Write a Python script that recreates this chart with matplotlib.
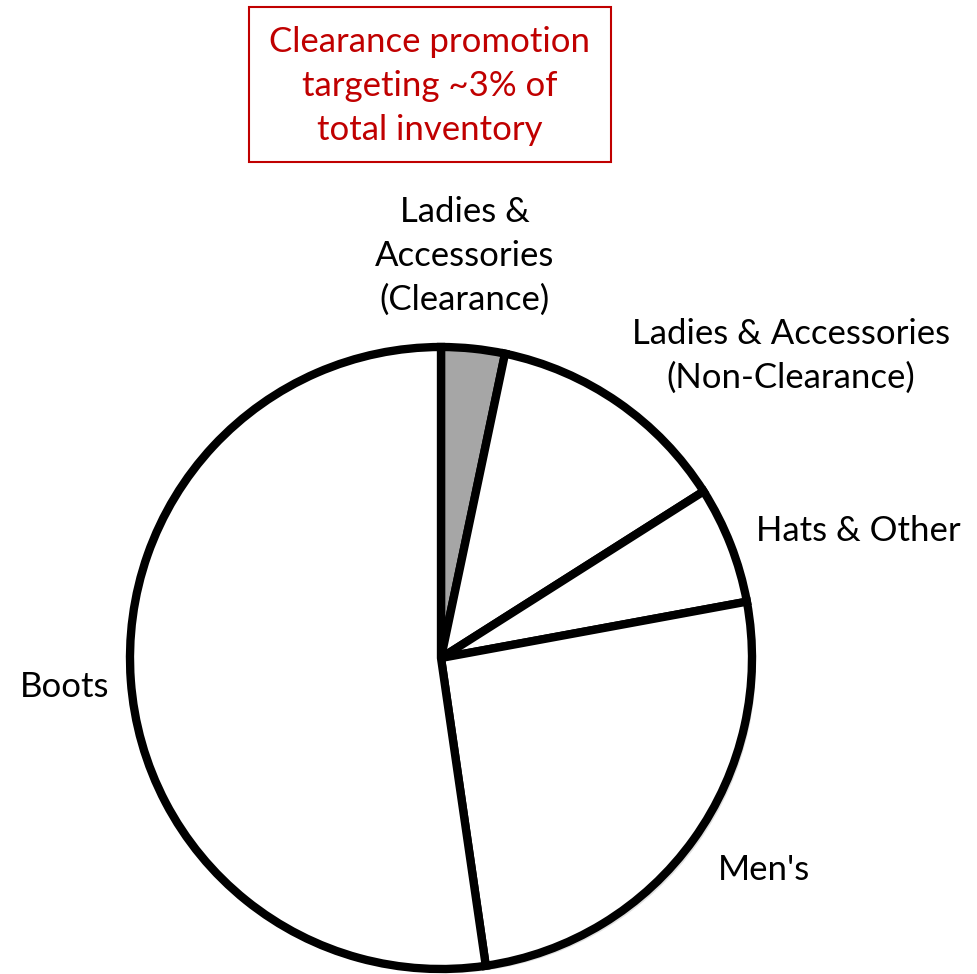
import matplotlib
matplotlib.use("Agg")
import matplotlib.pyplot as plt
from matplotlib.patches import Rectangle
import matplotlib.patheffects as pe

labels = ["Ladies &\nAccessories\n(Clearance)",
          "Ladies & Accessories\n(Non-Clearance)",
          "Hats & Other",
          "Men's",
          "Boots"]
values = [3.3, 12.7, 6.1, 25.6, 52.3]
colors = ["#a6a6a6", "#ffffff", "#ffffff", "#ffffff", "#ffffff"]
title_text = "Clearance promotion\ntargeting ~3% of\ntotal inventory"

W, H = 978, 974
fig = plt.figure(figsize=(W / 100, H / 100), dpi=100)
FONT = ["Lato", "DejaVu Sans"]

cx, cy, r = 441, 658, 311
ax = fig.add_axes([(cx - r) / W, (H - cy - r) / H, 2 * r / W, 2 * r / H])
wedges, _ = ax.pie(values, colors=colors, startangle=90, counterclock=False,
                   radius=1,
                   wedgeprops=dict(edgecolor="black", linewidth=6, joinstyle="miter"))
for w in wedges:
    w.set_clip_on(False)
    w.set_path_effects([pe.SimplePatchShadow(offset=(3, -3), shadow_rgbFace="#000000", alpha=0.12),
                        pe.Normal()])
ax.set_xlim(-1, 1)
ax.set_ylim(-1, 1)
ax.set_aspect("equal")
ax.axis("off")

def ftext(x, y, s, **kw):
    fig.text(x / W, 1 - y / H, s, fontfamily=FONT, **kw)

fs = 25
ls = 1.45
ftext(465, 256, labels[0], fontsize=fs, ha="center", va="center", linespacing=ls)
ftext(791, 356, labels[1], fontsize=fs, ha="center", va="center", linespacing=ls)
ftext(756, 531, labels[2], fontsize=fs, ha="left", va="center")
ftext(764, 870, labels[3], fontsize=fs, ha="center", va="center")
ftext(20, 687, labels[4], fontsize=fs, ha="left", va="center")

fig.patches.append(Rectangle((249 / W, 1 - 162 / H), (611 - 249) / W, (162 - 7) / H,
                             transform=fig.transFigure, fill=False,
                             edgecolor="#c00000", linewidth=1.5))
ftext(430, 86, title_text, fontsize=fs, ha="center", va="center",
      color="#c00000", linespacing=ls)

fig.savefig("out.png", dpi=100)
